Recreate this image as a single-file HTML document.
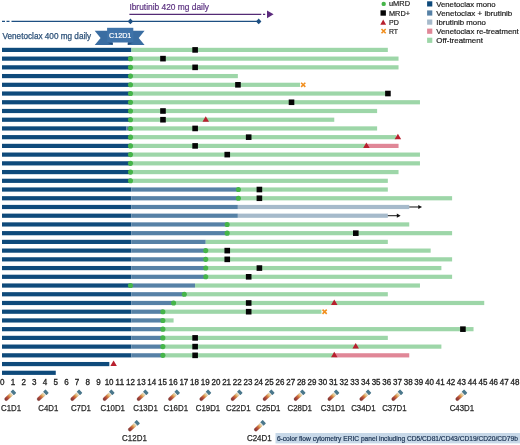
<!DOCTYPE html>
<html lang="en"><head><meta charset="utf-8"><title>Venetoclax / ibrutinib swimmer plot</title>
<style>html,body{margin:0;padding:0;background:#fff}body{width:520px;height:445px;overflow:hidden}svg{display:block;will-change:transform;transform:translateZ(0)}text{font-family:"Liberation Sans",sans-serif}</style>
</head><body>
<svg width="520" height="445" viewBox="0 0 520 445">
<defs><linearGradient id="tg" x1="0" y1="0" x2="0" y2="1"><stop offset="0" stop-color="#ebdcb4"/><stop offset="0.14" stop-color="#e6c884"/><stop offset="0.38" stop-color="#d57c3d"/><stop offset="0.64" stop-color="#ad4539"/><stop offset="1" stop-color="#763633"/></linearGradient>
<g id="tube"><g transform="rotate(47)"><rect x="-2.4" y="-6.6" width="4.8" height="3.4" rx="0.5" fill="#4a778b"/><rect x="-1.7" y="-3.2" width="3.4" height="1.0" fill="#f3eee0"/><path d="M-1.7 -2.2 H1.7 V4.9 A1.7 1.7 0 0 1 -1.7 4.9 Z" fill="url(#tg)" stroke="#7a4036" stroke-opacity="0.45" stroke-width="0.35"/></g></g>
</defs>
<rect width="520" height="445" fill="#fff"/>
<g id="header">
<text x="129.4" y="10.3" font-size="8.8" fill="#5c3280" stroke="#5c3280" stroke-width="0.2" textLength="79.6" lengthAdjust="spacingAndGlyphs">Ibrutinib 420 mg daily</text>
<path d="M129.4 14.3 H261.3 M263 14.3 H265.2" stroke="#542b75" stroke-width="1.25" fill="none"/>
<path d="M267 10.4 L273.6 14.3 L267 18.2 Z" fill="#5b2a7d"/>
<path d="M2 21.4 H5 M6.5 21.4 H9.5" stroke="#1d4f82" stroke-width="1.1" fill="none"/>
<path d="M11.5 21.4 H259" stroke="#1d4f82" stroke-width="1.1" fill="none"/>
<path d="M130.4 18.6 L133.1 21.4 L130.4 24.2 L127.7 21.4 Z" fill="#1d4f82"/>
<path d="M258.7 18.6 L261.4 21.4 L258.7 24.2 L256 21.4 Z" fill="#1d4f82"/>
<text x="2.5" y="38.6" font-size="8.7" fill="#2b5078" stroke="#2b5078" stroke-width="0.25" textLength="88.7" lengthAdjust="spacingAndGlyphs">Venetoclax 400 mg daily</text>
<g id="banner">
<path d="M94.7 30.7 H112.5 V45.1 H94.7 L100.6 37.9 Z" fill="#3a6da2"/>
<path d="M144.6 30.7 H128 V45.1 H144.6 L138.7 37.9 Z" fill="#3a6da2"/>
<path d="M107.1 42.5 H112.8 V45.1 Z" fill="#1f4a78"/>
<path d="M133.3 42.5 H127.7 V45.1 Z" fill="#1f4a78"/>
<rect x="107.1" y="27.8" width="26.2" height="14.7" fill="#3f73a9"/>
<text x="109" y="38.2" font-size="7.4" fill="#fff" stroke="#fff" stroke-width="0.2" textLength="22.3" lengthAdjust="spacingAndGlyphs">C12D1</text>
</g></g>
<g id="legend-marks">
<circle cx="383.7" cy="3.9" r="2.2" fill="#45b549"/>
<rect x="380.5" y="10.3" width="5.4" height="5.4" fill="#050505"/>
<path d="M383.2 19.6 L386.1 24.8 L380.3 24.8 Z" fill="#b81f2e"/>
<path d="M381.5 29 L385.7 33.2 M381.5 33.2 L385.7 29" stroke="#f18f1f" stroke-width="1.6" fill="none"/>
</g>
<g id="legend" font-size="7.9" fill="#222" stroke="#222" stroke-width="0.2">
<text x="389" y="6.4" textLength="21" lengthAdjust="spacingAndGlyphs">uMRD</text>
<text x="389" y="15.5" textLength="21" lengthAdjust="spacingAndGlyphs">MRD+</text>
<text x="389" y="24.6" textLength="9.8" lengthAdjust="spacingAndGlyphs">PD</text>
<text x="389" y="33.7" textLength="9.1" lengthAdjust="spacingAndGlyphs">RT</text>
<rect x="427.1" y="1.3" width="5.2" height="5.2" fill="#0e4a7b" stroke="none"/>
<text x="436.3" y="6.5" textLength="59.3" lengthAdjust="spacingAndGlyphs">Venetoclax mono</text>
<rect x="427.1" y="10.4" width="5.2" height="5.2" fill="#5681a6" stroke="none"/>
<text x="436.3" y="15.6" textLength="76" lengthAdjust="spacingAndGlyphs">Venetoclax + ibrutinib</text>
<rect x="427.1" y="19.5" width="5.2" height="5.2" fill="#a6bacb" stroke="none"/>
<text x="436.3" y="24.7" textLength="49.6" lengthAdjust="spacingAndGlyphs">Ibrutinib mono</text>
<rect x="427.1" y="28.6" width="5.2" height="5.2" fill="#e08797" stroke="none"/>
<text x="436.3" y="33.8" textLength="82.4" lengthAdjust="spacingAndGlyphs">Venetoclax re-treatment</text>
<rect x="427.1" y="37.7" width="5.2" height="5.2" fill="#9dd6a8" stroke="none"/>
<text x="436.3" y="42.9" textLength="46.6" lengthAdjust="spacingAndGlyphs">Off-treatment</text>
</g>
<g id="bars">
<rect x="2" y="47.8" width="129.4" height="4.2" fill="#0e4a7b"/>
<rect x="131.4" y="47.8" width="256.43" height="4.2" fill="#9dd6a8"/>
<rect x="2" y="56.53" width="129.4" height="4.2" fill="#0e4a7b"/>
<rect x="131.4" y="56.53" width="267.14" height="4.2" fill="#9dd6a8"/>
<rect x="2" y="65.25" width="129.4" height="4.2" fill="#0e4a7b"/>
<rect x="131.4" y="65.25" width="267.14" height="4.2" fill="#9dd6a8"/>
<rect x="2" y="73.98" width="129.4" height="4.2" fill="#0e4a7b"/>
<rect x="131.4" y="73.98" width="106.46" height="4.2" fill="#9dd6a8"/>
<rect x="2" y="82.71" width="129.4" height="4.2" fill="#0e4a7b"/>
<rect x="131.4" y="82.71" width="168.59" height="4.2" fill="#9dd6a8"/>
<rect x="2" y="91.44" width="129.4" height="4.2" fill="#0e4a7b"/>
<rect x="131.4" y="91.44" width="256.43" height="4.2" fill="#9dd6a8"/>
<rect x="2" y="100.16" width="129.4" height="4.2" fill="#0e4a7b"/>
<rect x="131.4" y="100.16" width="288.57" height="4.2" fill="#9dd6a8"/>
<rect x="2" y="108.89" width="129.4" height="4.2" fill="#0e4a7b"/>
<rect x="131.4" y="108.89" width="245.72" height="4.2" fill="#9dd6a8"/>
<rect x="2" y="117.62" width="129.4" height="4.2" fill="#0e4a7b"/>
<rect x="131.4" y="117.62" width="202.87" height="4.2" fill="#9dd6a8"/>
<rect x="2" y="126.34" width="124.46" height="4.2" fill="#0e4a7b"/>
<rect x="126.46" y="126.34" width="4.94" height="4.2" fill="#5681a6"/>
<rect x="131.4" y="126.34" width="245.72" height="4.2" fill="#9dd6a8"/>
<rect x="2" y="135.07" width="129.4" height="4.2" fill="#0e4a7b"/>
<rect x="131.4" y="135.07" width="265" height="4.2" fill="#9dd6a8"/>
<rect x="2" y="143.8" width="129.4" height="4.2" fill="#0e4a7b"/>
<rect x="131.4" y="143.8" width="235.01" height="4.2" fill="#9dd6a8"/>
<rect x="366.41" y="143.8" width="32.14" height="4.2" fill="#e08797"/>
<rect x="2" y="152.52" width="129.4" height="4.2" fill="#0e4a7b"/>
<rect x="131.4" y="152.52" width="288.57" height="4.2" fill="#9dd6a8"/>
<rect x="2" y="161.25" width="129.4" height="4.2" fill="#0e4a7b"/>
<rect x="131.4" y="161.25" width="288.57" height="4.2" fill="#9dd6a8"/>
<rect x="2" y="169.98" width="129.4" height="4.2" fill="#0e4a7b"/>
<rect x="131.4" y="169.98" width="267.14" height="4.2" fill="#9dd6a8"/>
<rect x="2" y="178.71" width="129.4" height="4.2" fill="#0e4a7b"/>
<rect x="131.4" y="178.71" width="256.43" height="4.2" fill="#9dd6a8"/>
<rect x="2" y="187.43" width="129.4" height="4.2" fill="#0e4a7b"/>
<rect x="131.4" y="187.43" width="106.46" height="4.2" fill="#5681a6"/>
<rect x="237.86" y="187.43" width="149.97" height="4.2" fill="#9dd6a8"/>
<rect x="2" y="196.16" width="129.4" height="4.2" fill="#0e4a7b"/>
<rect x="131.4" y="196.16" width="106.46" height="4.2" fill="#5681a6"/>
<rect x="237.86" y="196.16" width="214.24" height="4.2" fill="#9dd6a8"/>
<rect x="2" y="204.89" width="129.4" height="4.2" fill="#0e4a7b"/>
<rect x="131.4" y="204.89" width="106.46" height="4.2" fill="#5681a6"/>
<rect x="237.86" y="204.89" width="171.39" height="4.2" fill="#a6bacb"/>
<rect x="2" y="213.61" width="129.4" height="4.2" fill="#0e4a7b"/>
<rect x="131.4" y="213.61" width="106.46" height="4.2" fill="#5681a6"/>
<rect x="237.86" y="213.61" width="149.97" height="4.2" fill="#a6bacb"/>
<rect x="2" y="222.34" width="129.4" height="4.2" fill="#0e4a7b"/>
<rect x="131.4" y="222.34" width="95.75" height="4.2" fill="#5681a6"/>
<rect x="227.15" y="222.34" width="182.1" height="4.2" fill="#9dd6a8"/>
<rect x="2" y="231.07" width="129.4" height="4.2" fill="#0e4a7b"/>
<rect x="131.4" y="231.07" width="95.75" height="4.2" fill="#5681a6"/>
<rect x="227.15" y="231.07" width="224.95" height="4.2" fill="#9dd6a8"/>
<rect x="2" y="239.79" width="129.4" height="4.2" fill="#0e4a7b"/>
<rect x="131.4" y="239.79" width="74.33" height="4.2" fill="#5681a6"/>
<rect x="205.73" y="239.79" width="182.1" height="4.2" fill="#9dd6a8"/>
<rect x="2" y="248.52" width="129.4" height="4.2" fill="#0e4a7b"/>
<rect x="131.4" y="248.52" width="74.33" height="4.2" fill="#5681a6"/>
<rect x="205.73" y="248.52" width="224.95" height="4.2" fill="#9dd6a8"/>
<rect x="2" y="257.25" width="129.4" height="4.2" fill="#0e4a7b"/>
<rect x="131.4" y="257.25" width="74.33" height="4.2" fill="#5681a6"/>
<rect x="205.73" y="257.25" width="246.38" height="4.2" fill="#9dd6a8"/>
<rect x="2" y="265.97" width="129.4" height="4.2" fill="#0e4a7b"/>
<rect x="131.4" y="265.97" width="74.33" height="4.2" fill="#5681a6"/>
<rect x="205.73" y="265.97" width="235.66" height="4.2" fill="#9dd6a8"/>
<rect x="2" y="274.7" width="129.4" height="4.2" fill="#0e4a7b"/>
<rect x="131.4" y="274.7" width="74.33" height="4.2" fill="#5681a6"/>
<rect x="205.73" y="274.7" width="246.38" height="4.2" fill="#9dd6a8"/>
<rect x="2" y="283.43" width="129.4" height="4.2" fill="#0e4a7b"/>
<rect x="131.4" y="283.43" width="63.62" height="4.2" fill="#5681a6"/>
<rect x="195.02" y="283.43" width="224.95" height="4.2" fill="#9dd6a8"/>
<rect x="2" y="292.16" width="129.4" height="4.2" fill="#0e4a7b"/>
<rect x="131.4" y="292.16" width="52.9" height="4.2" fill="#5681a6"/>
<rect x="184.3" y="292.16" width="203.53" height="4.2" fill="#9dd6a8"/>
<rect x="2" y="300.88" width="129.4" height="4.2" fill="#0e4a7b"/>
<rect x="131.4" y="300.88" width="42.19" height="4.2" fill="#5681a6"/>
<rect x="173.59" y="300.88" width="310.65" height="4.2" fill="#9dd6a8"/>
<rect x="2" y="309.61" width="129.4" height="4.2" fill="#0e4a7b"/>
<rect x="131.4" y="309.61" width="31.48" height="4.2" fill="#5681a6"/>
<rect x="162.88" y="309.61" width="158.54" height="4.2" fill="#9dd6a8"/>
<rect x="2" y="318.34" width="129.4" height="4.2" fill="#0e4a7b"/>
<rect x="131.4" y="318.34" width="31.48" height="4.2" fill="#5681a6"/>
<rect x="162.88" y="318.34" width="10.71" height="4.2" fill="#9dd6a8"/>
<rect x="2" y="327.06" width="129.4" height="4.2" fill="#0e4a7b"/>
<rect x="131.4" y="327.06" width="31.48" height="4.2" fill="#5681a6"/>
<rect x="162.88" y="327.06" width="310.65" height="4.2" fill="#9dd6a8"/>
<rect x="2" y="335.79" width="129.4" height="4.2" fill="#0e4a7b"/>
<rect x="131.4" y="335.79" width="31.48" height="4.2" fill="#5681a6"/>
<rect x="162.88" y="335.79" width="224.95" height="4.2" fill="#9dd6a8"/>
<rect x="2" y="344.52" width="129.4" height="4.2" fill="#0e4a7b"/>
<rect x="131.4" y="344.52" width="31.48" height="4.2" fill="#5681a6"/>
<rect x="162.88" y="344.52" width="278.51" height="4.2" fill="#9dd6a8"/>
<rect x="2" y="353.24" width="129.4" height="4.2" fill="#0e4a7b"/>
<rect x="131.4" y="353.24" width="31.48" height="4.2" fill="#5681a6"/>
<rect x="162.88" y="353.24" width="171.39" height="4.2" fill="#9dd6a8"/>
<rect x="334.27" y="353.24" width="74.98" height="4.2" fill="#e08797"/>
<rect x="2" y="361.97" width="107.32" height="4.2" fill="#0e4a7b"/>
<rect x="2" y="370.7" width="53.76" height="4.2" fill="#0e4a7b"/>
</g>
<g id="markers">
<rect x="192.32" y="47.1" width="5.6" height="5.6" fill="#050505"/>
<circle cx="130.5" cy="58.63" r="2.55" fill="#45b549"/>
<rect x="160.18" y="55.83" width="5.6" height="5.6" fill="#050505"/>
<circle cx="130.5" cy="67.35" r="2.55" fill="#45b549"/>
<rect x="192.32" y="64.55" width="5.6" height="5.6" fill="#050505"/>
<circle cx="130.5" cy="76.08" r="2.55" fill="#45b549"/>
<circle cx="130.5" cy="84.81" r="2.55" fill="#45b549"/>
<rect x="235.16" y="82.01" width="5.6" height="5.6" fill="#050505"/>
<path d="M301.11 82.71 L305.31 86.91 M301.11 86.91 L305.31 82.71" stroke="#f18f1f" stroke-width="1.6" fill="none"/>
<circle cx="130.5" cy="93.53" r="2.55" fill="#45b549"/>
<rect x="385.13" y="90.73" width="5.6" height="5.6" fill="#050505"/>
<circle cx="130.5" cy="102.26" r="2.55" fill="#45b549"/>
<rect x="288.72" y="99.46" width="5.6" height="5.6" fill="#050505"/>
<circle cx="130.5" cy="110.99" r="2.55" fill="#45b549"/>
<rect x="160.18" y="108.19" width="5.6" height="5.6" fill="#050505"/>
<circle cx="130.5" cy="119.72" r="2.55" fill="#45b549"/>
<rect x="160.18" y="116.92" width="5.6" height="5.6" fill="#050505"/>
<path d="M205.73 116.22 L208.98 121.72 L202.48 121.72 Z" fill="#b81f2e"/>
<circle cx="130.5" cy="128.44" r="2.55" fill="#45b549"/>
<rect x="192.32" y="125.64" width="5.6" height="5.6" fill="#050505"/>
<circle cx="130.5" cy="137.17" r="2.55" fill="#45b549"/>
<rect x="245.88" y="134.37" width="5.6" height="5.6" fill="#050505"/>
<path d="M397.9 133.67 L401.15 139.17 L394.65 139.17 Z" fill="#b81f2e"/>
<circle cx="130.5" cy="145.9" r="2.55" fill="#45b549"/>
<rect x="192.32" y="143.1" width="5.6" height="5.6" fill="#050505"/>
<path d="M366.41 142.4 L369.66 147.9 L363.16 147.9 Z" fill="#b81f2e"/>
<circle cx="130.5" cy="154.62" r="2.55" fill="#45b549"/>
<rect x="224.45" y="151.82" width="5.6" height="5.6" fill="#050505"/>
<circle cx="130.5" cy="163.35" r="2.55" fill="#45b549"/>
<circle cx="130.5" cy="172.08" r="2.55" fill="#45b549"/>
<circle cx="130.5" cy="180.81" r="2.55" fill="#45b549"/>
<circle cx="238.4" cy="189.53" r="2.55" fill="#45b549"/>
<rect x="256.59" y="186.73" width="5.6" height="5.6" fill="#050505"/>
<circle cx="238.4" cy="198.26" r="2.55" fill="#45b549"/>
<rect x="256.59" y="195.46" width="5.6" height="5.6" fill="#050505"/>
<path d="M409.26 206.99 L418.76 206.99" stroke="#111" stroke-width="1" fill="none"/><path d="M422.06 206.99 L418.26 204.89 L418.26 209.09 Z" fill="#111"/>
<path d="M387.83 215.71 L397.33 215.71" stroke="#111" stroke-width="1" fill="none"/><path d="M400.63 215.71 L396.83 213.61 L396.83 217.81 Z" fill="#111"/>
<circle cx="227.15" cy="224.44" r="2.55" fill="#45b549"/>
<circle cx="227.15" cy="233.17" r="2.55" fill="#45b549"/>
<rect x="353" y="230.37" width="5.6" height="5.6" fill="#050505"/>
<circle cx="205.73" cy="250.62" r="2.55" fill="#45b549"/>
<rect x="224.45" y="247.82" width="5.6" height="5.6" fill="#050505"/>
<circle cx="205.73" cy="259.35" r="2.55" fill="#45b549"/>
<rect x="224.45" y="256.55" width="5.6" height="5.6" fill="#050505"/>
<circle cx="205.73" cy="268.07" r="2.55" fill="#45b549"/>
<rect x="256.59" y="265.27" width="5.6" height="5.6" fill="#050505"/>
<circle cx="205.73" cy="276.8" r="2.55" fill="#45b549"/>
<rect x="245.88" y="274" width="5.6" height="5.6" fill="#050505"/>
<circle cx="130.5" cy="285.53" r="2.55" fill="#45b549"/>
<circle cx="184.3" cy="294.26" r="2.55" fill="#45b549"/>
<circle cx="173.59" cy="302.98" r="2.55" fill="#45b549"/>
<rect x="245.88" y="300.18" width="5.6" height="5.6" fill="#050505"/>
<path d="M334.27 299.48 L337.52 304.98 L331.02 304.98 Z" fill="#b81f2e"/>
<circle cx="162.88" cy="311.71" r="2.55" fill="#45b549"/>
<rect x="245.88" y="308.91" width="5.6" height="5.6" fill="#050505"/>
<path d="M322.53 309.61 L326.73 313.81 M322.53 313.81 L326.73 309.61" stroke="#f18f1f" stroke-width="1.6" fill="none"/>
<circle cx="162.88" cy="320.44" r="2.55" fill="#45b549"/>
<circle cx="162.88" cy="329.16" r="2.55" fill="#45b549"/>
<rect x="460.12" y="326.36" width="5.6" height="5.6" fill="#050505"/>
<circle cx="162.88" cy="337.89" r="2.55" fill="#45b549"/>
<rect x="192.32" y="335.09" width="5.6" height="5.6" fill="#050505"/>
<circle cx="162.88" cy="346.62" r="2.55" fill="#45b549"/>
<rect x="192.32" y="343.82" width="5.6" height="5.6" fill="#050505"/>
<path d="M355.7 343.12 L358.95 348.62 L352.45 348.62 Z" fill="#b81f2e"/>
<circle cx="162.88" cy="355.34" r="2.55" fill="#45b549"/>
<rect x="192.32" y="352.54" width="5.6" height="5.6" fill="#050505"/>
<path d="M334.27 351.84 L337.52 357.34 L331.02 357.34 Z" fill="#b81f2e"/>
<path d="M113.6 360.57 L116.85 366.07 L110.35 366.07 Z" fill="#b81f2e"/>
</g>
<g id="axis" font-size="8.4" fill="#1e1e1e" stroke="#1e1e1e" stroke-width="0.3" text-anchor="middle">
<text x="2.3" y="385.3" textLength="4.5" lengthAdjust="spacingAndGlyphs">0</text>
<text x="12.98" y="385.3" textLength="4.5" lengthAdjust="spacingAndGlyphs">1</text>
<text x="23.66" y="385.3" textLength="4.5" lengthAdjust="spacingAndGlyphs">2</text>
<text x="34.34" y="385.3" textLength="4.5" lengthAdjust="spacingAndGlyphs">3</text>
<text x="45.02" y="385.3" textLength="4.5" lengthAdjust="spacingAndGlyphs">4</text>
<text x="55.7" y="385.3" textLength="4.5" lengthAdjust="spacingAndGlyphs">5</text>
<text x="66.38" y="385.3" textLength="4.5" lengthAdjust="spacingAndGlyphs">6</text>
<text x="77.06" y="385.3" textLength="4.5" lengthAdjust="spacingAndGlyphs">7</text>
<text x="87.74" y="385.3" textLength="4.5" lengthAdjust="spacingAndGlyphs">8</text>
<text x="98.42" y="385.3" textLength="4.5" lengthAdjust="spacingAndGlyphs">9</text>
<text x="109.1" y="385.3" textLength="8.9" lengthAdjust="spacingAndGlyphs">10</text>
<text x="119.78" y="385.3" textLength="8.9" lengthAdjust="spacingAndGlyphs">11</text>
<text x="130.46" y="385.3" textLength="8.9" lengthAdjust="spacingAndGlyphs">12</text>
<text x="141.14" y="385.3" textLength="8.9" lengthAdjust="spacingAndGlyphs">13</text>
<text x="151.82" y="385.3" textLength="8.9" lengthAdjust="spacingAndGlyphs">14</text>
<text x="162.5" y="385.3" textLength="8.9" lengthAdjust="spacingAndGlyphs">15</text>
<text x="173.18" y="385.3" textLength="8.9" lengthAdjust="spacingAndGlyphs">16</text>
<text x="183.86" y="385.3" textLength="8.9" lengthAdjust="spacingAndGlyphs">17</text>
<text x="194.54" y="385.3" textLength="8.9" lengthAdjust="spacingAndGlyphs">18</text>
<text x="205.22" y="385.3" textLength="8.9" lengthAdjust="spacingAndGlyphs">19</text>
<text x="215.9" y="385.3" textLength="8.9" lengthAdjust="spacingAndGlyphs">20</text>
<text x="226.58" y="385.3" textLength="8.9" lengthAdjust="spacingAndGlyphs">21</text>
<text x="237.26" y="385.3" textLength="8.9" lengthAdjust="spacingAndGlyphs">22</text>
<text x="247.94" y="385.3" textLength="8.9" lengthAdjust="spacingAndGlyphs">23</text>
<text x="258.62" y="385.3" textLength="8.9" lengthAdjust="spacingAndGlyphs">24</text>
<text x="269.3" y="385.3" textLength="8.9" lengthAdjust="spacingAndGlyphs">25</text>
<text x="279.98" y="385.3" textLength="8.9" lengthAdjust="spacingAndGlyphs">26</text>
<text x="290.66" y="385.3" textLength="8.9" lengthAdjust="spacingAndGlyphs">27</text>
<text x="301.34" y="385.3" textLength="8.9" lengthAdjust="spacingAndGlyphs">28</text>
<text x="312.02" y="385.3" textLength="8.9" lengthAdjust="spacingAndGlyphs">29</text>
<text x="322.7" y="385.3" textLength="8.9" lengthAdjust="spacingAndGlyphs">30</text>
<text x="333.38" y="385.3" textLength="8.9" lengthAdjust="spacingAndGlyphs">31</text>
<text x="344.06" y="385.3" textLength="8.9" lengthAdjust="spacingAndGlyphs">32</text>
<text x="354.74" y="385.3" textLength="8.9" lengthAdjust="spacingAndGlyphs">33</text>
<text x="365.42" y="385.3" textLength="8.9" lengthAdjust="spacingAndGlyphs">34</text>
<text x="376.1" y="385.3" textLength="8.9" lengthAdjust="spacingAndGlyphs">35</text>
<text x="386.78" y="385.3" textLength="8.9" lengthAdjust="spacingAndGlyphs">36</text>
<text x="397.46" y="385.3" textLength="8.9" lengthAdjust="spacingAndGlyphs">37</text>
<text x="408.14" y="385.3" textLength="8.9" lengthAdjust="spacingAndGlyphs">38</text>
<text x="418.82" y="385.3" textLength="8.9" lengthAdjust="spacingAndGlyphs">39</text>
<text x="429.5" y="385.3" textLength="8.9" lengthAdjust="spacingAndGlyphs">40</text>
<text x="440.18" y="385.3" textLength="8.9" lengthAdjust="spacingAndGlyphs">41</text>
<text x="450.86" y="385.3" textLength="8.9" lengthAdjust="spacingAndGlyphs">42</text>
<text x="461.54" y="385.3" textLength="8.9" lengthAdjust="spacingAndGlyphs">43</text>
<text x="472.22" y="385.3" textLength="8.9" lengthAdjust="spacingAndGlyphs">44</text>
<text x="482.9" y="385.3" textLength="8.9" lengthAdjust="spacingAndGlyphs">45</text>
<text x="493.58" y="385.3" textLength="8.9" lengthAdjust="spacingAndGlyphs">46</text>
<text x="504.26" y="385.3" textLength="8.9" lengthAdjust="spacingAndGlyphs">47</text>
<text x="515" y="385.3" textLength="8.9" lengthAdjust="spacingAndGlyphs">48</text>
</g>
<g id="samples" font-size="8.4" fill="#2a2a2a" stroke="#2a2a2a" stroke-width="0.25" text-anchor="middle">
<use href="#tube" x="9.8" y="395.7" stroke="none"/>
<text x="11" y="410.5" textLength="20" lengthAdjust="spacingAndGlyphs">C1D1</text>
<use href="#tube" x="42.3" y="395.7" stroke="none"/>
<text x="48.3" y="410.5" textLength="20" lengthAdjust="spacingAndGlyphs">C4D1</text>
<use href="#tube" x="75.9" y="395.7" stroke="none"/>
<text x="80.95" y="410.5" textLength="20" lengthAdjust="spacingAndGlyphs">C7D1</text>
<use href="#tube" x="108.2" y="395.7" stroke="none"/>
<text x="112.75" y="410.5" textLength="24.4" lengthAdjust="spacingAndGlyphs">C10D1</text>
<use href="#tube" x="142.2" y="395.7" stroke="none"/>
<text x="145.55" y="410.5" textLength="24.4" lengthAdjust="spacingAndGlyphs">C13D1</text>
<use href="#tube" x="173.6" y="395.7" stroke="none"/>
<text x="175.8" y="410.5" textLength="24.4" lengthAdjust="spacingAndGlyphs">C16D1</text>
<use href="#tube" x="204.9" y="395.7" stroke="none"/>
<text x="208" y="410.5" textLength="24.4" lengthAdjust="spacingAndGlyphs">C19D1</text>
<use href="#tube" x="236.2" y="395.7" stroke="none"/>
<text x="238.3" y="410.5" textLength="24.4" lengthAdjust="spacingAndGlyphs">C22D1</text>
<use href="#tube" x="268.2" y="395.7" stroke="none"/>
<text x="268.2" y="410.5" textLength="24.4" lengthAdjust="spacingAndGlyphs">C25D1</text>
<use href="#tube" x="299.2" y="395.7" stroke="none"/>
<text x="299.7" y="410.5" textLength="24.4" lengthAdjust="spacingAndGlyphs">C28D1</text>
<use href="#tube" x="333" y="395.7" stroke="none"/>
<text x="333" y="410.5" textLength="24.4" lengthAdjust="spacingAndGlyphs">C31D1</text>
<use href="#tube" x="364.9" y="395.7" stroke="none"/>
<text x="363.4" y="410.5" textLength="24.4" lengthAdjust="spacingAndGlyphs">C34D1</text>
<use href="#tube" x="396.9" y="395.7" stroke="none"/>
<text x="394.4" y="410.5" textLength="24.4" lengthAdjust="spacingAndGlyphs">C37D1</text>
<use href="#tube" x="460.9" y="395.7" stroke="none"/>
<text x="461.9" y="410.5" textLength="24.4" lengthAdjust="spacingAndGlyphs">C43D1</text>
<use href="#tube" x="133.5" y="426.2" stroke="none"/>
<text x="134.45" y="441.2" textLength="24.8" lengthAdjust="spacingAndGlyphs">C12D1</text>
<use href="#tube" x="259.5" y="426.2" stroke="none"/>
<text x="259.3" y="441.2" textLength="24.8" lengthAdjust="spacingAndGlyphs">C24D1</text>
</g>
<rect x="275.5" y="433" width="244.5" height="10.4" fill="#c7d8e8"/>
<text x="276.9" y="441" font-size="6.7" fill="#1b3353" stroke="#1b3353" stroke-width="0.2" textLength="241" lengthAdjust="spacingAndGlyphs">6-color flow cytometry ERIC panel including CD5/CD81/CD43/CD19/CD20/CD79b</text>
</svg></body></html>
